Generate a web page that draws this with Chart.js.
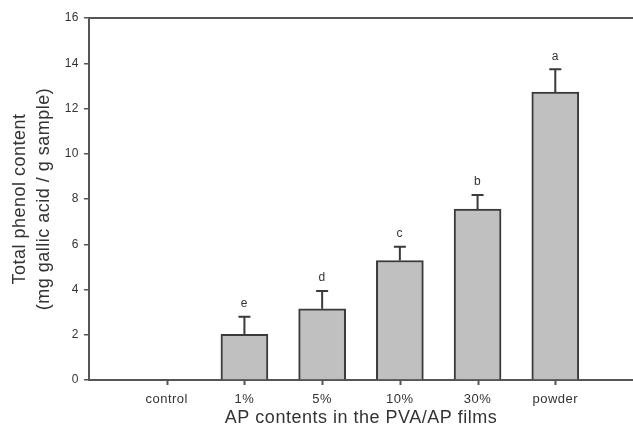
<!DOCTYPE html>
<html>
<head>
<meta charset="utf-8">
<script src="https://cdn.jsdelivr.net/npm/chart.js@4/dist/chart.umd.min.js"></script>
<style>
    body { margin: 0; background: #fff; }
    #wrap { width: 633px; height: 431px; }
</style>
</head>
<body>
<div id="wrap"><canvas id="phenolChart" width="633" height="431"></canvas></div>
<script>
const categories = ['control', '1%', '5%', '10%', '30%', 'powder'];
const means = [null, 2.02, 3.15, 5.28, 7.56, 12.73];
const errors = [null, 0.78, 0.78, 0.61, 0.62, 1.00];
const groups = ['', 'e', 'd', 'c', 'b', 'a'];
const yTicks = [0, 2, 4, 6, 8, 10, 12, 14, 16];

const AXIS = '#555';
const TEXT = '#333';
const FONT = 'Liberation Sans, Arial, sans-serif';

// bars sit at x = 1..6 on a 0..7 linear axis
const barData = categories.map((c, i) => ({ x: i + 1, y: means[i] }));

// slightly wider letter spacing for all text
const spacing = {
    id: 'spacing',
    beforeUpdate(chart) { chart.ctx.letterSpacing = '0.5px'; },
    beforeDraw(chart) { chart.ctx.letterSpacing = '0.5px'; }
};

// upper-only error bars with caps, plus the group letters above them
const errorBars = {
    id: 'errorBars',
    afterDatasetsDraw(chart) {
        const { ctx, scales: { x, y } } = chart;
        ctx.save();
        ctx.strokeStyle = '#3a3a3a';
        ctx.lineWidth = 2;
        ctx.fillStyle = TEXT;
        ctx.font = '12px ' + FONT;
        ctx.textAlign = 'center';
        ctx.textBaseline = 'middle';
        categories.forEach((c, i) => {
            if (means[i] == null) return;
            const px = x.getPixelForValue(i + 1);
            const top = y.getPixelForValue(means[i]);
            const end = y.getPixelForValue(means[i] + errors[i]);
            ctx.beginPath();
            ctx.moveTo(px, top);
            ctx.lineTo(px, end);
            ctx.moveTo(px - 6, end);
            ctx.lineTo(px + 6, end);
            ctx.stroke();
            ctx.fillText(groups[i], px, end - 13);
        });
        ctx.restore();
    }
};

// top edge of the frame and the small tick marks under each category
const frame = {
    id: 'frame',
    afterDraw(chart) {
        const { ctx, chartArea, scales: { x } } = chart;
        ctx.save();
        ctx.strokeStyle = AXIS;
        ctx.lineWidth = 2;
        ctx.beginPath();
        ctx.moveTo(chartArea.left - 1, chartArea.top);
        ctx.lineTo(chartArea.right, chartArea.top);
        categories.forEach((c, i) => {
            const px = Math.round(x.getPixelForValue(i + 1)) + 0.5;
            ctx.moveTo(px, chartArea.bottom);
            ctx.lineTo(px, chartArea.bottom + 5);
        });
        ctx.stroke();
        ctx.restore();
    }
};

new Chart(document.getElementById('phenolChart'), {
    type: 'bar',
    data: {
        datasets: [{
            data: barData,
            backgroundColor: '#c0c0c0',
            borderColor: '#3a3a3a',
            borderWidth: 2,
            barThickness: 47
        }]
    },
    options: {
        responsive: false,
        animation: false,
        layout: { padding: { top: 18, right: 0, left: 0, bottom: 0 } },
        plugins: { legend: { display: false }, tooltip: { enabled: false } },
        scales: {
            x: {
                type: 'linear',
                min: 0,
                max: 7,
                offset: false,
                afterBuildTicks: s => { s.ticks = categories.map((c, i) => ({ value: i + 1 })); },
                afterFit: s => { s.height = 51; },
                grid: { display: false, offset: false, tickLength: 5 },
                border: { display: true, color: AXIS, width: 2 },
                ticks: {
                    callback: v => categories[v - 1],
                    color: TEXT,
                    font: { family: FONT, size: 13 },
                    padding: 7,
                    maxRotation: 0
                },
                title: {
                    display: true,
                    text: 'AP contents in the PVA/AP films',
                    color: TEXT,
                    font: { family: FONT, size: 18, lineHeight: 1.2 },
                    padding: { top: 0, bottom: 2 }
                }
            },
            y: {
                min: 0,
                max: 16,
                afterBuildTicks: s => { s.ticks = yTicks.map(v => ({ value: v })); },
                afterFit: s => { s.width = 89; },
                grid: { display: true, drawOnChartArea: false, tickLength: 5, color: AXIS, lineWidth: 1.5 },
                border: { color: AXIS, width: 2 },
                ticks: {
                    color: TEXT,
                    font: { family: FONT, size: 12 },
                    padding: 5
                },
                title: {
                    display: true,
                    text: ['Total phenol content', '(mg gallic acid / g sample)'],
                    color: TEXT,
                    font: { family: FONT, size: 18, lineHeight: 1.28 },
                    padding: { top: 9, bottom: 0 }
                }
            }
        }
    },
    plugins: [spacing, errorBars, frame]
});
</script>
</body>
</html>
